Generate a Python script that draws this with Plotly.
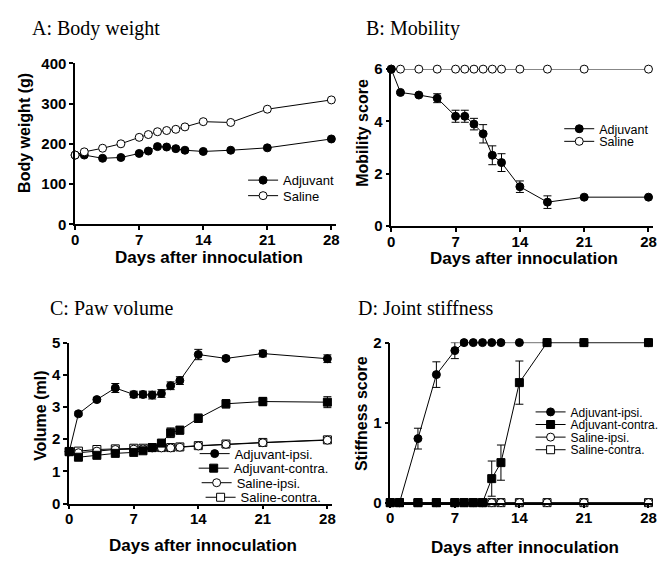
import plotly.graph_objects as go

# ---------------- data ----------------
days = [0, 1, 3, 5, 7, 8, 9, 10, 11, 12, 14, 17, 21, 28]

# A: Body weight (g)
bw_adjuvant = [172, 172, 164, 166, 176, 182, 193, 192, 188, 184, 181, 184, 190, 212]
bw_saline = [172, 180, 189, 200, 216, 223, 230, 233, 236, 242, 255, 253, 286, 309]

# B: Mobility score
mob_adjuvant = [6, 5.11, 5.01, 4.89, 4.2, 4.2, 3.9, 3.53, 2.71, 2.43, 1.51, 0.92, 1.11, 1.11]
mob_adjuvant_err = [0, 0.04, 0.04, 0.17, 0.23, 0.23, 0.22, 0.35, 0.36, 0.34, 0.22, 0.24, 0.03, 0.03]
mob_saline = [6, 6, 6, 6, 6, 6, 6, 6, 6, 6, 6, 6, 6, 6]

# C: Paw volume (ml)
pv_adj_ipsi = [1.61, 2.79, 3.23, 3.59, 3.39, 3.39, 3.37, 3.42, 3.66, 3.82, 4.63, 4.51, 4.66, 4.5]
pv_adj_ipsi_err = [0.04, 0.06, 0.06, 0.14, 0.1, 0.1, 0.12, 0.12, 0.12, 0.12, 0.16, 0.07, 0.1, 0.12]
pv_adj_contra = [1.61, 1.44, 1.5, 1.56, 1.59, 1.64, 1.74, 1.88, 2.2, 2.28, 2.65, 3.1, 3.17, 3.15]
pv_adj_contra_err = [0.04, 0.06, 0.06, 0.06, 0.06, 0.06, 0.06, 0.08, 0.15, 0.12, 0.13, 0.13, 0.13, 0.17]
pv_sal_ipsi = [1.62, 1.58, 1.63, 1.68, 1.69, 1.7, 1.73, 1.73, 1.73, 1.75, 1.79, 1.84, 1.89, 1.97]
pv_sal_contra = [1.62, 1.63, 1.68, 1.7, 1.72, 1.72, 1.74, 1.74, 1.74, 1.76, 1.8, 1.85, 1.9, 1.98]

# D: Joint stiffness score
js_adj_ipsi = [0, 0, 0.8, 1.6, 1.9, 2, 2, 2, 2, 2, 2, 2, 2, 2]
js_adj_ipsi_err = [0, 0, 0.13, 0.16, 0.1, 0, 0, 0, 0, 0, 0, 0, 0, 0]
js_adj_contra = [0, 0, 0, 0, 0, 0, 0, 0, 0.3, 0.5, 1.5, 2, 2, 2]
js_adj_contra_err = [0, 0, 0, 0, 0, 0, 0, 0, 0.22, 0.22, 0.27, 0, 0, 0]
js_sal_ipsi = [0, 0, 0, 0, 0, 0, 0, 0, 0, 0, 0, 0, 0, 0]
js_sal_contra = [0, 0, 0, 0, 0, 0, 0, 0, 0, 0, 0, 0, 0, 0]

x_ticks = [0, 7, 14, 21, 28]
panel_titles = ["A: Body weight", "B: Mobility", "C: Paw volume", "D: Joint stiffness"]
y_titles = ["Body weight (g)", "Mobility score", "Volume (ml)", "Stiffness score"]
x_title = "Days after innoculation"

# ---------------- figure ----------------
W, H = 664, 563
SANS = "Liberation Sans, Arial, sans-serif"
SERIF = "Liberation Serif, Times New Roman, serif"


def px(xp):
    return xp / W


def py(yp):
    return 1 - yp / H


fig = go.Figure()
layout_legends = {}
_leg_count = [0]


def legend_slot(marker_x, center_y, size):
    """Create one legend box holding a single entry (legend spacing as in the reference)."""
    _leg_count[0] += 1
    n = _leg_count[0]
    name = "legend" if n == 1 else "legend%d" % n
    item_h = max(size * 1.3, 16) + 3
    top = center_y - 5 - item_h / 2
    layout_legends[name] = dict(
        x=px(marker_x - 20), y=py(top), xanchor="left", yanchor="top",
        bgcolor="rgba(0,0,0,0)", borderwidth=0, itemwidth=30, tracegroupgap=0,
        itemclick=False, itemdoubleclick=False,
        font=dict(family=SANS, size=size, color="black"),
    )
    return name


def add(x, y, name, axis, leg, symbol, filled, err=None):
    fig.add_trace(go.Scatter(
        x=x, y=y, name=name, mode="lines+markers",
        xaxis="x" + axis, yaxis="y" + axis, legend=leg,
        line=dict(color="black", width=1),
        marker=dict(symbol=symbol, size=8,
                    color="black" if filled else "white",
                    line=dict(color="black", width=1)),
        error_y=None if err is None else dict(type="data", array=err, visible=True,
                                               color="black", thickness=1, width=4),
        cliponaxis=False,
    ))


# Panel A
add(days, bw_adjuvant, "Adjuvant", "", legend_slot(262, 176, 13), "circle", True)
add(days, bw_saline, "Saline", "", legend_slot(262, 192, 13), "circle", False)

# Panel B
add(days, mob_saline, "Saline", "2", legend_slot(582, 136, 12.5), "circle", False)
add(days, mob_adjuvant, "Adjuvant", "2", legend_slot(582, 123, 12.5), "circle", True, mob_adjuvant_err)

# Panel C
add(days, pv_sal_contra, "Saline-contra.", "3", legend_slot(219, 503, 13), "square", False)
add(days, pv_sal_ipsi, "Saline-ipsi.", "3", legend_slot(215, 488, 13), "circle", False)
add(days, pv_adj_contra, "Adjuvant-contra.", "3", legend_slot(212, 473, 13), "square", True, pv_adj_contra_err)
add(days, pv_adj_ipsi, "Adjuvant-ipsi.", "3", legend_slot(213, 458, 13), "circle", True, pv_adj_ipsi_err)

# Panel D
add(days, js_sal_contra, "Saline-contra.", "4", legend_slot(553, 454, 12), "square", False)
add(days, js_sal_ipsi, "Saline-ipsi.", "4", legend_slot(553, 441, 12), "circle", False)
add(days, js_adj_contra, "Adjuvant-contra.", "4", legend_slot(553, 428, 12), "square", True, js_adj_contra_err)
add(days, js_adj_ipsi, "Adjuvant-ipsi.", "4", legend_slot(553, 415, 12), "circle", True, js_adj_ipsi_err)

tickfont = dict(family=SANS, size=15, color="black", weight="bold")
common = dict(showline=True, linecolor="black", linewidth=1.5, ticks="outside",
              ticklen=4, tickwidth=1.5, tickcolor="black", showgrid=False,
              zeroline=False, tickfont=tickfont, fixedrange=True)

# panel geometry in pixels: (x0, x1, ybottom, ytop)
geo = {
    "": (72, 336, 222, 56),
    "2": (392, 657, 224, 62),
    "3": (66, 332, 510, 344),
    "4": (391, 657, 509, 344),
}
yranges = {"": [0, 400], "2": [0, 6], "3": [0, 5], "4": [0, 2]}
ytickvals = {"": [0, 100, 200, 300, 400], "2": [0, 2, 4, 6], "3": [0, 1, 2, 3, 4, 5], "4": [0, 1, 2]}

layout = dict(
    width=W, height=H, margin=dict(l=0, r=0, t=0, b=0), autosize=False,
    plot_bgcolor="white", paper_bgcolor="white", showlegend=True,
)
for k, (x0, x1, yb, yt) in geo.items():
    layout["xaxis" + k] = dict(common, domain=[px(x0), px(x1)], range=[0, 28.5],
                               tickvals=x_ticks, anchor="y" + k, ticklabelstandoff=-3)
    layout["yaxis" + k] = dict(common, domain=[py(yb), py(yt)], range=yranges[k],
                               tickvals=ytickvals[k], anchor="x" + k)
layout.update(layout_legends)

ann = []
title_pos = [(26, 20), (364, 20), (45, 308), (356, 308)]
for t, (x, y) in zip(panel_titles, title_pos):
    ann.append(dict(text=t, x=px(x), y=py(y), xref="paper", yref="paper",
                    xanchor="left", yanchor="middle", showarrow=False,
                    font=dict(family=SERIF, size=20, color="black")))
xt_pos = [(207, 256), (526, 257), (201, 553), (527, 555)]
for (x, y) in xt_pos:
    ann.append(dict(text=x_title, x=px(x), y=py(y), xref="paper", yref="paper",
                    xanchor="center", yanchor="middle", showarrow=False,
                    font=dict(family=SANS, size=17, color="black", weight="bold")))
yt_pos = [(20, 128), (362, 128), (37, 420), (362, 417)]
for t, (x, y) in zip(y_titles, yt_pos):
    ann.append(dict(text=t, x=px(x), y=py(y), xref="paper", yref="paper",
                    xanchor="center", yanchor="middle", showarrow=False, textangle=-90,
                    font=dict(family=SANS, size=16, color="black", weight="bold")))
layout["annotations"] = ann

fig.update_layout(**layout)
fig.write_html(
    "out.html",
    config={"displayModeBar": False, "responsive": False},
    post_script=(
        "document.documentElement.style.margin='0';"
        "document.documentElement.style.overflow='hidden';"
        "document.body.style.margin='0';document.body.style.padding='0';"
        "document.body.style.overflow='hidden';"
        "var d=document.getElementById('{plot_id}');"
        "d.style.position='fixed';d.style.left='0px';d.style.top='0px';"
    ),
)
